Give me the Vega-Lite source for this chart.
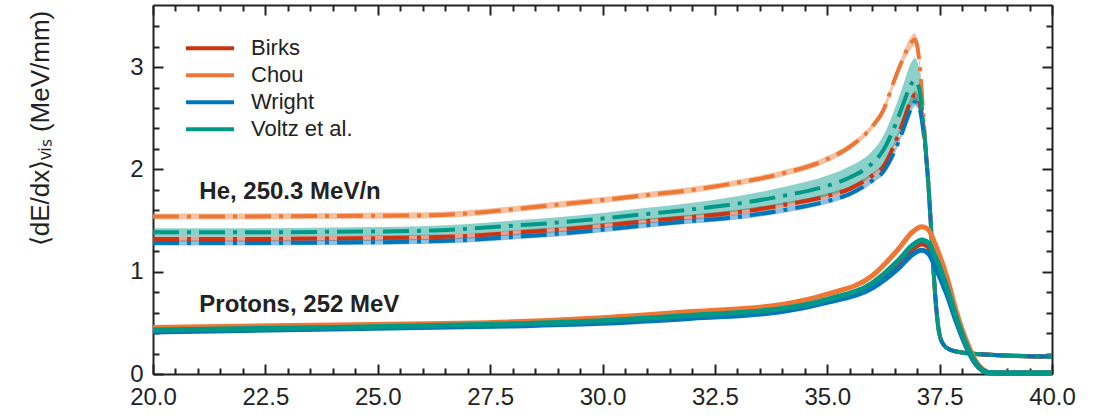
{
"$schema": "https://vega.github.io/schema/vega-lite/v6.json",
"width": 899, "height": 369,
"autosize": {"type": "none"},
"padding": {"left": 153, "top": 5, "right": 44, "bottom": 44},
"config": {"font": "Liberation Sans", "view": {"stroke": null},
  "axis": {"grid": false, "tickColor": "#222", "domainColor": "#222", "tickWidth": 2, "domainWidth": 2, "labelColor": "#222", "labelFontSize": 24, "labelFlush": false, "labelOverlap": false},
  "legend": {"orient": "none", "legendX": 31, "legendY": 30, "title": null, "symbolType": "stroke", "symbolSize": 2304,
             "symbolStrokeWidth": 4, "clipHeight": 26.7, "rowPadding": 0, "labelFontSize": 22, "labelOffset": 15,
             "labelColor": "#222", "padding": 0, "labelLimit": 300}},
"datasets": {
"he": [
{"x":20,"model":"Birks","y":1.32,"lo":1.295,"hi":1.345},
{"x":22,"model":"Birks","y":1.32,"lo":1.295,"hi":1.345},
{"x":24,"model":"Birks","y":1.325,"lo":1.30,"hi":1.35},
{"x":26,"model":"Birks","y":1.335,"lo":1.31,"hi":1.36},
{"x":27,"model":"Birks","y":1.35,"lo":1.325,"hi":1.375},
{"x":28,"model":"Birks","y":1.38,"lo":1.355,"hi":1.405},
{"x":29,"model":"Birks","y":1.41,"lo":1.385,"hi":1.435},
{"x":30,"model":"Birks","y":1.45,"lo":1.425,"hi":1.475},
{"x":31,"model":"Birks","y":1.495,"lo":1.47,"hi":1.52},
{"x":32,"model":"Birks","y":1.535,"lo":1.51,"hi":1.56},
{"x":33,"model":"Birks","y":1.58,"lo":1.555,"hi":1.605},
{"x":34,"model":"Birks","y":1.65,"lo":1.625,"hi":1.675},
{"x":35,"model":"Birks","y":1.74,"lo":1.715,"hi":1.765},
{"x":35.5,"model":"Birks","y":1.81,"lo":1.785,"hi":1.835},
{"x":36,"model":"Birks","y":1.94,"lo":1.915,"hi":1.965},
{"x":36.25,"model":"Birks","y":2.03,"lo":2.005,"hi":2.055},
{"x":36.5,"model":"Birks","y":2.25,"lo":2.225,"hi":2.275},
{"x":36.7,"model":"Birks","y":2.48,"lo":2.45,"hi":2.51},
{"x":36.85,"model":"Birks","y":2.66,"lo":2.625,"hi":2.695},
{"x":36.95,"model":"Birks","y":2.73,"lo":2.69,"hi":2.77},
{"x":37.05,"model":"Birks","y":2.66,"lo":2.625,"hi":2.695},
{"x":37.15,"model":"Birks","y":2.36,"lo":2.33,"hi":2.39},
{"x":37.25,"model":"Birks","y":1.85,"lo":1.83,"hi":1.87},
{"x":37.3,"model":"Birks","y":1.5,"lo":1.48,"hi":1.52},
{"x":37.35,"model":"Birks","y":1.12,"lo":1.10,"hi":1.14},
{"x":37.4,"model":"Birks","y":0.78,"lo":0.76,"hi":0.80},
{"x":37.45,"model":"Birks","y":0.53,"lo":0.51,"hi":0.55},
{"x":37.5,"model":"Birks","y":0.38,"lo":0.36,"hi":0.40},
{"x":37.6,"model":"Birks","y":0.28,"lo":0.26,"hi":0.30},
{"x":37.75,"model":"Birks","y":0.235,"lo":0.215,"hi":0.255},
{"x":38,"model":"Birks","y":0.21,"lo":0.19,"hi":0.23},
{"x":38.5,"model":"Birks","y":0.19,"lo":0.17,"hi":0.21},
{"x":39,"model":"Birks","y":0.18,"lo":0.16,"hi":0.20},
{"x":40,"model":"Birks","y":0.17,"lo":0.15,"hi":0.19},
{"x":20,"model":"Chou","y":1.54,"lo":1.51,"hi":1.57},
{"x":22,"model":"Chou","y":1.54,"lo":1.51,"hi":1.57},
{"x":24,"model":"Chou","y":1.545,"lo":1.515,"hi":1.575},
{"x":26,"model":"Chou","y":1.55,"lo":1.52,"hi":1.58},
{"x":27,"model":"Chou","y":1.57,"lo":1.54,"hi":1.60},
{"x":28,"model":"Chou","y":1.61,"lo":1.58,"hi":1.64},
{"x":29,"model":"Chou","y":1.655,"lo":1.625,"hi":1.685},
{"x":30,"model":"Chou","y":1.70,"lo":1.67,"hi":1.73},
{"x":31,"model":"Chou","y":1.75,"lo":1.72,"hi":1.78},
{"x":32,"model":"Chou","y":1.80,"lo":1.77,"hi":1.83},
{"x":33,"model":"Chou","y":1.87,"lo":1.84,"hi":1.90},
{"x":34,"model":"Chou","y":1.96,"lo":1.93,"hi":1.99},
{"x":35,"model":"Chou","y":2.10,"lo":2.07,"hi":2.13},
{"x":35.5,"model":"Chou","y":2.22,"lo":2.19,"hi":2.25},
{"x":36,"model":"Chou","y":2.42,"lo":2.39,"hi":2.45},
{"x":36.25,"model":"Chou","y":2.58,"lo":2.54,"hi":2.62},
{"x":36.5,"model":"Chou","y":2.88,"lo":2.84,"hi":2.92},
{"x":36.7,"model":"Chou","y":3.10,"lo":3.05,"hi":3.15},
{"x":36.85,"model":"Chou","y":3.23,"lo":3.17,"hi":3.29},
{"x":36.95,"model":"Chou","y":3.27,"lo":3.21,"hi":3.33},
{"x":37.05,"model":"Chou","y":3.05,"lo":3.00,"hi":3.10},
{"x":37.15,"model":"Chou","y":2.45,"lo":2.42,"hi":2.48},
{"x":37.25,"model":"Chou","y":1.85,"lo":1.83,"hi":1.87},
{"x":37.3,"model":"Chou","y":1.5,"lo":1.48,"hi":1.52},
{"x":37.35,"model":"Chou","y":1.12,"lo":1.10,"hi":1.14},
{"x":37.4,"model":"Chou","y":0.78,"lo":0.76,"hi":0.80},
{"x":37.45,"model":"Chou","y":0.53,"lo":0.51,"hi":0.55},
{"x":37.5,"model":"Chou","y":0.38,"lo":0.36,"hi":0.40},
{"x":37.6,"model":"Chou","y":0.28,"lo":0.26,"hi":0.30},
{"x":37.75,"model":"Chou","y":0.235,"lo":0.215,"hi":0.255},
{"x":38,"model":"Chou","y":0.21,"lo":0.19,"hi":0.23},
{"x":38.5,"model":"Chou","y":0.19,"lo":0.17,"hi":0.21},
{"x":39,"model":"Chou","y":0.18,"lo":0.16,"hi":0.20},
{"x":40,"model":"Chou","y":0.17,"lo":0.15,"hi":0.19},
{"x":20,"model":"Wright","y":1.28,"lo":1.255,"hi":1.305},
{"x":22,"model":"Wright","y":1.28,"lo":1.255,"hi":1.305},
{"x":24,"model":"Wright","y":1.285,"lo":1.26,"hi":1.31},
{"x":26,"model":"Wright","y":1.295,"lo":1.27,"hi":1.32},
{"x":27,"model":"Wright","y":1.31,"lo":1.285,"hi":1.335},
{"x":28,"model":"Wright","y":1.34,"lo":1.315,"hi":1.365},
{"x":29,"model":"Wright","y":1.37,"lo":1.345,"hi":1.395},
{"x":30,"model":"Wright","y":1.41,"lo":1.385,"hi":1.435},
{"x":31,"model":"Wright","y":1.455,"lo":1.43,"hi":1.48},
{"x":32,"model":"Wright","y":1.495,"lo":1.47,"hi":1.52},
{"x":33,"model":"Wright","y":1.535,"lo":1.51,"hi":1.56},
{"x":34,"model":"Wright","y":1.60,"lo":1.575,"hi":1.625},
{"x":35,"model":"Wright","y":1.69,"lo":1.665,"hi":1.715},
{"x":35.5,"model":"Wright","y":1.76,"lo":1.735,"hi":1.785},
{"x":36,"model":"Wright","y":1.89,"lo":1.865,"hi":1.915},
{"x":36.25,"model":"Wright","y":1.98,"lo":1.955,"hi":2.005},
{"x":36.5,"model":"Wright","y":2.18,"lo":2.155,"hi":2.205},
{"x":36.7,"model":"Wright","y":2.40,"lo":2.37,"hi":2.43},
{"x":36.85,"model":"Wright","y":2.58,"lo":2.545,"hi":2.615},
{"x":36.95,"model":"Wright","y":2.66,"lo":2.62,"hi":2.70},
{"x":37.05,"model":"Wright","y":2.60,"lo":2.565,"hi":2.635},
{"x":37.15,"model":"Wright","y":2.33,"lo":2.30,"hi":2.36},
{"x":37.25,"model":"Wright","y":1.85,"lo":1.83,"hi":1.87},
{"x":37.3,"model":"Wright","y":1.5,"lo":1.48,"hi":1.52},
{"x":37.35,"model":"Wright","y":1.12,"lo":1.10,"hi":1.14},
{"x":37.4,"model":"Wright","y":0.78,"lo":0.76,"hi":0.80},
{"x":37.45,"model":"Wright","y":0.53,"lo":0.51,"hi":0.55},
{"x":37.5,"model":"Wright","y":0.38,"lo":0.36,"hi":0.40},
{"x":37.6,"model":"Wright","y":0.28,"lo":0.26,"hi":0.30},
{"x":37.75,"model":"Wright","y":0.235,"lo":0.215,"hi":0.255},
{"x":38,"model":"Wright","y":0.21,"lo":0.19,"hi":0.23},
{"x":38.5,"model":"Wright","y":0.19,"lo":0.17,"hi":0.21},
{"x":39,"model":"Wright","y":0.18,"lo":0.16,"hi":0.20},
{"x":40,"model":"Wright","y":0.17,"lo":0.15,"hi":0.19},
{"x":20,"model":"Voltz et al.","y":1.385,"lo":1.345,"hi":1.425},
{"x":22,"model":"Voltz et al.","y":1.385,"lo":1.345,"hi":1.425},
{"x":24,"model":"Voltz et al.","y":1.39,"lo":1.348,"hi":1.432},
{"x":26,"model":"Voltz et al.","y":1.40,"lo":1.355,"hi":1.445},
{"x":27,"model":"Voltz et al.","y":1.42,"lo":1.373,"hi":1.467},
{"x":28,"model":"Voltz et al.","y":1.45,"lo":1.40,"hi":1.50},
{"x":29,"model":"Voltz et al.","y":1.48,"lo":1.428,"hi":1.532},
{"x":30,"model":"Voltz et al.","y":1.52,"lo":1.465,"hi":1.575},
{"x":31,"model":"Voltz et al.","y":1.565,"lo":1.505,"hi":1.625},
{"x":32,"model":"Voltz et al.","y":1.61,"lo":1.545,"hi":1.675},
{"x":33,"model":"Voltz et al.","y":1.665,"lo":1.592,"hi":1.738},
{"x":34,"model":"Voltz et al.","y":1.74,"lo":1.655,"hi":1.825},
{"x":35,"model":"Voltz et al.","y":1.84,"lo":1.74,"hi":1.94},
{"x":35.5,"model":"Voltz et al.","y":1.92,"lo":1.81,"hi":2.03},
{"x":36,"model":"Voltz et al.","y":2.06,"lo":1.94,"hi":2.18},
{"x":36.25,"model":"Voltz et al.","y":2.19,"lo":2.05,"hi":2.33},
{"x":36.5,"model":"Voltz et al.","y":2.42,"lo":2.25,"hi":2.59},
{"x":36.7,"model":"Voltz et al.","y":2.65,"lo":2.46,"hi":2.84},
{"x":36.85,"model":"Voltz et al.","y":2.82,"lo":2.61,"hi":3.03},
{"x":36.95,"model":"Voltz et al.","y":2.87,"lo":2.65,"hi":3.09},
{"x":37.05,"model":"Voltz et al.","y":2.78,"lo":2.58,"hi":2.98},
{"x":37.15,"model":"Voltz et al.","y":2.40,"lo":2.30,"hi":2.50},
{"x":37.25,"model":"Voltz et al.","y":1.85,"lo":1.83,"hi":1.87},
{"x":37.3,"model":"Voltz et al.","y":1.5,"lo":1.48,"hi":1.52},
{"x":37.35,"model":"Voltz et al.","y":1.12,"lo":1.10,"hi":1.14},
{"x":37.4,"model":"Voltz et al.","y":0.78,"lo":0.76,"hi":0.80},
{"x":37.45,"model":"Voltz et al.","y":0.53,"lo":0.51,"hi":0.55},
{"x":37.5,"model":"Voltz et al.","y":0.38,"lo":0.36,"hi":0.40},
{"x":37.6,"model":"Voltz et al.","y":0.28,"lo":0.26,"hi":0.30},
{"x":37.75,"model":"Voltz et al.","y":0.235,"lo":0.215,"hi":0.255},
{"x":38,"model":"Voltz et al.","y":0.21,"lo":0.19,"hi":0.23},
{"x":38.5,"model":"Voltz et al.","y":0.19,"lo":0.17,"hi":0.21},
{"x":39,"model":"Voltz et al.","y":0.18,"lo":0.16,"hi":0.20},
{"x":40,"model":"Voltz et al.","y":0.17,"lo":0.15,"hi":0.19}
],
"p": [
{"x":20,"model":"Birks","y":0.42},{"x":24,"model":"Birks","y":0.447},{"x":28,"model":"Birks","y":0.48},{"x":30,"model":"Birks","y":0.508},{"x":32,"model":"Birks","y":0.56},{"x":34,"model":"Birks","y":0.625},{"x":35,"model":"Birks","y":0.715},{"x":36,"model":"Birks","y":0.865},{"x":36.6,"model":"Birks","y":1.08},{"x":36.9,"model":"Birks","y":1.22},{"x":37.1,"model":"Birks","y":1.27},{"x":37.25,"model":"Birks","y":1.24},{"x":37.4,"model":"Birks","y":1.11},{"x":37.66,"model":"Birks","y":0.82},{"x":37.88,"model":"Birks","y":0.52},{"x":38.1,"model":"Birks","y":0.27},{"x":38.3,"model":"Birks","y":0.105},{"x":38.45,"model":"Birks","y":0.038},{"x":38.6,"model":"Birks","y":0.012},{"x":39,"model":"Birks","y":0.01},{"x":40,"model":"Birks","y":0.01},
{"x":20,"model":"Chou","y":0.455},{"x":24,"model":"Chou","y":0.48},{"x":28,"model":"Chou","y":0.51},{"x":30,"model":"Chou","y":0.55},{"x":32,"model":"Chou","y":0.61},{"x":34,"model":"Chou","y":0.68},{"x":35,"model":"Chou","y":0.78},{"x":36,"model":"Chou","y":0.96},{"x":36.6,"model":"Chou","y":1.23},{"x":36.9,"model":"Chou","y":1.39},{"x":37.1,"model":"Chou","y":1.44},{"x":37.25,"model":"Chou","y":1.41},{"x":37.4,"model":"Chou","y":1.27},{"x":37.66,"model":"Chou","y":0.95},{"x":37.88,"model":"Chou","y":0.60},{"x":38.1,"model":"Chou","y":0.32},{"x":38.3,"model":"Chou","y":0.13},{"x":38.45,"model":"Chou","y":0.05},{"x":38.6,"model":"Chou","y":0.015},{"x":39,"model":"Chou","y":0.01},{"x":40,"model":"Chou","y":0.01},
{"x":20,"model":"Wright","y":0.41},{"x":24,"model":"Wright","y":0.44},{"x":28,"model":"Wright","y":0.47},{"x":30,"model":"Wright","y":0.495},{"x":32,"model":"Wright","y":0.545},{"x":34,"model":"Wright","y":0.61},{"x":35,"model":"Wright","y":0.70},{"x":36,"model":"Wright","y":0.84},{"x":36.6,"model":"Wright","y":1.04},{"x":36.9,"model":"Wright","y":1.17},{"x":37.1,"model":"Wright","y":1.21},{"x":37.25,"model":"Wright","y":1.18},{"x":37.4,"model":"Wright","y":1.05},{"x":37.66,"model":"Wright","y":0.78},{"x":37.88,"model":"Wright","y":0.50},{"x":38.1,"model":"Wright","y":0.26},{"x":38.3,"model":"Wright","y":0.10},{"x":38.45,"model":"Wright","y":0.035},{"x":38.6,"model":"Wright","y":0.012},{"x":39,"model":"Wright","y":0.01},{"x":40,"model":"Wright","y":0.01},
{"x":20,"model":"Voltz et al.","y":0.43},{"x":24,"model":"Voltz et al.","y":0.455},{"x":28,"model":"Voltz et al.","y":0.49},{"x":30,"model":"Voltz et al.","y":0.52},{"x":32,"model":"Voltz et al.","y":0.575},{"x":34,"model":"Voltz et al.","y":0.64},{"x":35,"model":"Voltz et al.","y":0.73},{"x":36,"model":"Voltz et al.","y":0.89},{"x":36.6,"model":"Voltz et al.","y":1.12},{"x":36.9,"model":"Voltz et al.","y":1.26},{"x":37.1,"model":"Voltz et al.","y":1.31},{"x":37.25,"model":"Voltz et al.","y":1.28},{"x":37.4,"model":"Voltz et al.","y":1.15},{"x":37.66,"model":"Voltz et al.","y":0.85},{"x":37.88,"model":"Voltz et al.","y":0.54},{"x":38.1,"model":"Voltz et al.","y":0.28},{"x":38.3,"model":"Voltz et al.","y":0.11},{"x":38.45,"model":"Voltz et al.","y":0.04},{"x":38.6,"model":"Voltz et al.","y":0.012},{"x":39,"model":"Voltz et al.","y":0.01},{"x":40,"model":"Voltz et al.","y":0.01}
],
"labels": [
{"label": "He, 250.3 MeV/n", "x": 21.03, "y": 1.708},
{"label": "Protons, 252 MeV", "x": 21.03, "y": 0.606}
]
},
"resolve": {"axis": {"x": "independent", "y": "independent"}},
"layer": [
{
 "data": {"name": "he"},
 "mark": {"type": "area", "opacity": 0.45, "interpolate": "monotone"},
 "encoding": {
  "x": {"field": "x", "type": "quantitative", "scale": {"domain": [20, 40], "nice": false, "zero": false},
        "axis": {"orient": "bottom", "title": null, "values": [20, 22.5, 25, 27.5, 30, 32.5, 35, 37.5, 40], "format": ".1f", "tickSize": -10, "labelPadding": 21, "domain": true}},
  "y": {"field": "lo", "type": "quantitative", "scale": {"domain": [0, 3.607], "nice": false},
        "axis": {"orient": "left", "values": [0, 1, 2, 3], "tickSize": -10, "labelPadding": 20, "domain": true,
                 "title": "⟨dE/dx⟩ᵥᵢₛ (MeV/mm)", "titleFontSize": 26, "titleFontWeight": "normal", "titleColor": "#222",
                 "titleAngle": -90, "titleX": -113, "titleY": 123, "titleAlign": "center", "titleBaseline": "middle"}},
  "y2": {"field": "hi"},
  "color": {"field": "model", "type": "nominal",
            "scale": {"domain": ["Birks", "Chou", "Wright", "Voltz et al."], "range": ["#CC3311", "#EE7733", "#0077BB", "#009988"]},
            "legend": {"encode": {"symbols": {"update": {"strokeDash": {"value": []}, "opacity": {"value": 1}, "strokeWidth": {"value": 4}, "fill": {"value": "transparent"}, "stroke": {"scale": "color", "field": "value"}}}}}}
 }
},
{
 "data": {"name": "he"},
 "mark": {"type": "line", "strokeWidth": 4, "strokeDash": [26, 8, 4, 8], "interpolate": "monotone"},
 "encoding": {
  "x": {"field": "x", "type": "quantitative", "axis": {"orient": "bottom", "title": null, "labels": false, "domain": false, "tickSize": -6,
        "values": [20.5,21,21.5,22,23,23.5,24,24.5,25.5,26,26.5,27,28,28.5,29,29.5,30.5,31,31.5,32,33,33.5,34,34.5,35.5,36,36.5,37,38,38.5,39,39.5]}},
  "y": {"field": "y", "type": "quantitative", "axis": {"orient": "left", "title": null, "labels": false, "domain": false, "tickSize": -6,
        "values": [0.2,0.4,0.6,0.8,1.2,1.4,1.6,1.8,2.2,2.4,2.6,2.8,3.2,3.4]}},
  "color": {"field": "model", "type": "nominal",
            "legend": {"encode": {"symbols": {"update": {"strokeDash": {"value": []}, "opacity": {"value": 1}, "strokeWidth": {"value": 4}, "fill": {"value": "transparent"}, "stroke": {"scale": "color", "field": "value"}}}}}}
 }
},
{
 "data": {"name": "p"},
 "mark": {"type": "line", "strokeWidth": 5, "interpolate": "monotone"},
 "encoding": {
  "x": {"field": "x", "type": "quantitative", "axis": {"orient": "top", "title": null, "labels": false, "domain": true, "tickSize": -10,
        "values": [20, 22.5, 25, 27.5, 30, 32.5, 35, 37.5, 40]}},
  "y": {"field": "y", "type": "quantitative", "axis": {"orient": "right", "title": null, "labels": false, "domain": true, "tickSize": -10,
        "values": [0, 1, 2, 3]}},
  "color": {"field": "model", "type": "nominal",
            "legend": {"encode": {"symbols": {"update": {"strokeDash": {"value": []}, "opacity": {"value": 1}, "strokeWidth": {"value": 4}, "fill": {"value": "transparent"}, "stroke": {"scale": "color", "field": "value"}}}}}}
 }
},
{
 "data": {"name": "labels"},
 "mark": {"type": "text", "fontSize": 24, "fontWeight": "bold", "align": "left", "baseline": "alphabetic", "color": "#222"},
 "encoding": {
  "x": {"field": "x", "type": "quantitative", "axis": {"orient": "top", "title": null, "labels": false, "domain": false, "tickSize": -6,
        "values": [20.5,21,21.5,22,23,23.5,24,24.5,25.5,26,26.5,27,28,28.5,29,29.5,30.5,31,31.5,32,33,33.5,34,34.5,35.5,36,36.5,37,38,38.5,39,39.5]}},
  "y": {"field": "y", "type": "quantitative", "axis": {"orient": "right", "title": null, "labels": false, "domain": false, "tickSize": -6,
        "values": [0.2,0.4,0.6,0.8,1.2,1.4,1.6,1.8,2.2,2.4,2.6,2.8,3.2,3.4]}},
  "text": {"field": "label"}
 }
}
]
}
